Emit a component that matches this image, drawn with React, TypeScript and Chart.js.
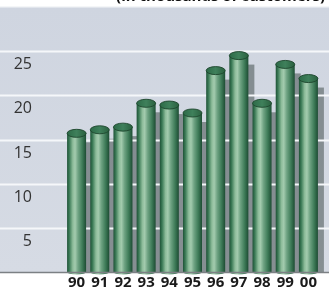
import React, { useEffect, useRef } from "react";
import { Chart, registerables } from "chart.js";

Chart.register(...registerables);

const years = ["90", "91", "92", "93", "94", "95", "96", "97", "98", "99", "00"];
const customers = [15.7, 16.1, 16.4, 19.1, 18.9, 18.0, 22.8, 24.5, 19.1, 23.5, 21.9];
const yTicks = [5, 10, 15, 20, 25];
const titleText = "(in thousands of customers)";

const cylinderPlugin = {
  id: "cylinders",
  beforeDraw(chart: any) {
    const { ctx, chartArea } = chart;
    const W = chart.width;
    ctx.save();
    const g = ctx.createLinearGradient(0, chartArea.top, 0, chartArea.bottom);
    g.addColorStop(0, "#cfd5e0");
    g.addColorStop(1, "#d6dbe4");
    ctx.fillStyle = g;
    ctx.fillRect(0, chartArea.top, W, chartArea.bottom - chartArea.top);
    ctx.fillStyle = "#f4f6f8";
    ctx.fillRect(0, chartArea.top - 1, W, 1.5);
    // title fragment
    ctx.fillStyle = "#111";
    ctx.font = "bold 15px 'Open Sans'";
    ctx.textAlign = "right";
    ctx.textBaseline = "alphabetic";
    ctx.fillText(titleText, 325, 1);
    ctx.restore();
  },
  beforeDatasetsDraw(chart: any) {
    const { ctx, scales } = chart;
    const W = chart.width;
    const meta = chart.getDatasetMeta(0);
    ctx.save();
    // shadows
    ctx.fillStyle = "rgba(80,92,92,0.6)";
    meta.data.forEach((bar: any) => {
      const w = bar.width;
      ctx.fillRect(bar.x - w / 2 + 6, bar.y + 9, w, bar.base - bar.y - 9);
    });
    // grid lines and y labels
    ctx.strokeStyle = "#f5f7fa";
    ctx.lineWidth = 2;
    ctx.fillStyle = "#333";
    ctx.font = "16px 'Open Sans'";
    ctx.textAlign = "right";
    ctx.textBaseline = "middle";
    yTicks.forEach((v) => {
      const py = Math.round(scales.y.getPixelForValue(v)) + 0.5;
      ctx.beginPath();
      ctx.moveTo(0, py);
      ctx.lineTo(W, py);
      ctx.stroke();
      ctx.fillText(String(v), 32, py + 13);
    });
    ctx.restore();
  },
  afterDatasetsDraw(chart: any) {
    const { ctx, scales } = chart;
    const meta = chart.getDatasetMeta(0);
    ctx.save();
    meta.data.forEach((bar: any) => {
      const w = bar.width;
      const x0 = bar.x - w / 2;
      const x1 = bar.x + w / 2;
      const ry = 4;
      const g = ctx.createLinearGradient(x0, 0, x1, 0);
      g.addColorStop(0, "#1e5236");
      g.addColorStop(0.12, "#3b7a56");
      g.addColorStop(0.3, "#8dbc9a");
      g.addColorStop(0.42, "#a3cbae");
      g.addColorStop(0.58, "#6fa383");
      g.addColorStop(0.8, "#3e7b58");
      g.addColorStop(1, "#1d4c33");
      ctx.fillStyle = g;
      ctx.beginPath();
      ctx.moveTo(x0, bar.y);
      ctx.lineTo(x0, bar.base);
      ctx.ellipse(bar.x, bar.base, w / 2, ry * 0.6, 0, Math.PI, 0, true);
      ctx.lineTo(x1, bar.y);
      ctx.closePath();
      ctx.fill();
      // top cap
      ctx.beginPath();
      ctx.ellipse(bar.x, bar.y, w / 2, ry, 0, 0, Math.PI * 2);
      const cg = ctx.createLinearGradient(x0, 0, x1, 0);
      cg.addColorStop(0, "#2c6a47");
      cg.addColorStop(0.5, "#3f805b");
      cg.addColorStop(1, "#2a603f");
      ctx.fillStyle = cg;
      ctx.fill();
      ctx.strokeStyle = "rgba(30,70,45,0.9)";
      ctx.lineWidth = 1;
      ctx.stroke();
    });
    // baseline
    const by = Math.round(scales.y.getPixelForValue(0)) + 0.5;
    ctx.strokeStyle = "#7c8084";
    ctx.lineWidth = 1.5;
    ctx.beginPath();
    ctx.moveTo(0, by);
    ctx.lineTo(chart.width, by);
    ctx.stroke();
    ctx.restore();
  },
};

export default function App() {
  const ref = useRef<HTMLCanvasElement | null>(null);
  useEffect(() => {
    document.body.style.margin = "0";
    if (!ref.current) return;
    const chart = new Chart(ref.current, {
      type: "bar",
      data: {
        labels: years,
        datasets: [
          {
            data: customers,
            backgroundColor: "rgba(0,0,0,0)",
            borderWidth: 0,
            barPercentage: 0.82,
            categoryPercentage: 1,
          },
        ],
      },
      options: {
        responsive: false,
        animation: false,
        devicePixelRatio: 1,
        layout: { padding: { top: 7, right: 9, left: 0, bottom: 0 } },
        plugins: { legend: { display: false }, tooltip: { enabled: false }, title: { display: false } },
        scales: {
          x: {
            grid: { display: false, drawTicks: false },
            border: { display: false },
            ticks: {
              padding: 2,
              color: "#1a1a1a",
              font: { family: "'Open Sans'", size: 15, weight: "bold" },
              maxRotation: 0,
              autoSkip: false,
            },
            afterFit: (s: any) => {
              s.height = 23;
            },
          },
          y: {
            min: 0,
            max: 30,
            grid: { display: false, drawTicks: false },
            border: { display: false },
            ticks: { display: false, stepSize: 5 },
            afterFit: (s: any) => {
              s.width = 65;
            },
          },
        },
      },
      plugins: [cylinderPlugin],
    });
    return () => chart.destroy();
  }, []);
  return (
    <div style={{ width: 329, height: 295, background: "#fff" }}>
      <canvas ref={ref} width={329} height={295} style={{ display: "block" }} />
    </div>
  );
}
